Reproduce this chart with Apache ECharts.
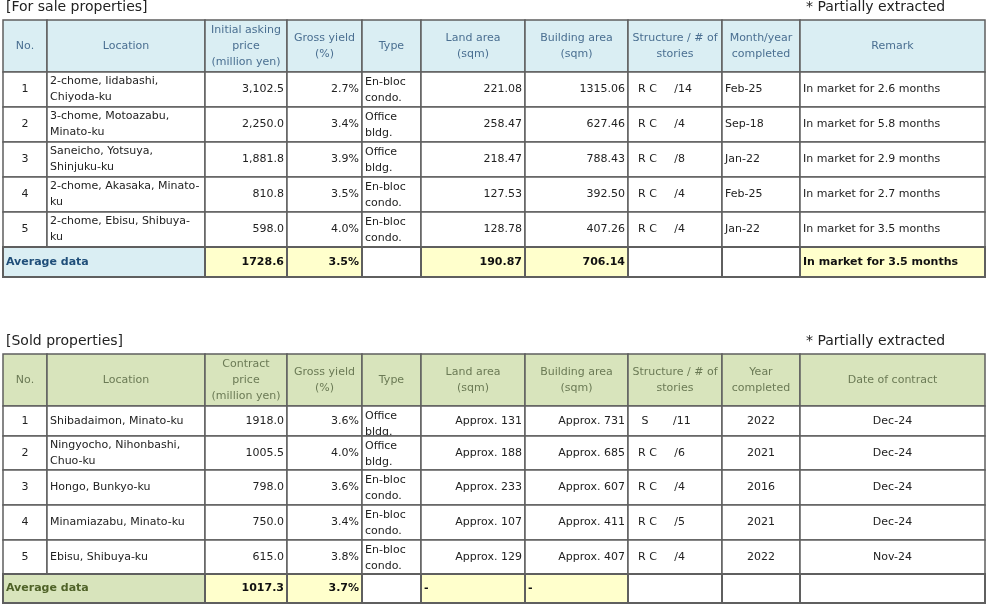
<!DOCTYPE html>
<html><head><meta charset="utf-8">
<script src="https://cdn.jsdelivr.net/npm/echarts@6/dist/echarts.min.js"></script>
<style>html,body{margin:0;padding:0;background:#fff}#c{width:989px;height:608px}</style>
</head><body><div id="c"></div>
<script>
// ---- data ----
const saleHeaders = ["No.","Location","Initial asking\nprice\n(million yen)","Gross yield\n(%)","Type","Land area\n(sqm)","Building area\n(sqm)","Structure / # of\nstories","Month/year\ncompleted","Remark"];
const saleNo = ["1","2","3","4","5"];
const saleLocation = ["2-chome, Iidabashi,\nChiyoda-ku","3-chome, Motoazabu,\nMinato-ku","Saneicho, Yotsuya,\nShinjuku-ku","2-chome, Akasaka, Minato-\nku","2-chome, Ebisu, Shibuya-\nku"];
const salePrice = ["3,102.5","2,250.0","1,881.8","810.8","598.0"];
const saleYield = ["2.7%","3.4%","3.9%","3.5%","4.0%"];
const saleType = ["En-bloc\ncondo.","Office\nbldg.","Office\nbldg.","En-bloc\ncondo.","En-bloc\ncondo."];
const saleLand = ["221.08","258.47","218.47","127.53","128.78"];
const saleBuilding = ["1315.06","627.46","788.43","392.50","407.26"];
const saleStructure = ["  R C     /14","  R C     /4","  R C     /8","  R C     /4","  R C     /4"];
const saleCompleted = ["Feb-25","Sep-18","Jan-22","Feb-25","Jan-22"];
const saleRemark = ["In market for 2.6 months","In market for 5.8 months","In market for 2.9 months","In market for 2.7 months","In market for 3.5 months"];
const saleAverage = ["Average data","1728.6","3.5%","","190.87","706.14","","","In market for 3.5 months"];

const soldHeaders = ["No.","Location","Contract\nprice\n(million yen)","Gross yield\n(%)","Type","Land area\n(sqm)","Building area\n(sqm)","Structure / # of\nstories","Year\ncompleted","Date of contract"];
const soldNo = ["1","2","3","4","5"];
const soldLocation = ["Shibadaimon, Minato-ku","Ningyocho, Nihonbashi,\nChuo-ku","Hongo, Bunkyo-ku","Minamiazabu, Minato-ku","Ebisu, Shibuya-ku"];
const soldPrice = ["1918.0","1005.5","798.0","750.0","615.0"];
const soldYield = ["3.6%","4.0%","3.6%","3.4%","3.8%"];
const soldType = ["Office\nbldg.","Office\nbldg.","En-bloc\ncondo.","En-bloc\ncondo.","En-bloc\ncondo."];
const soldLand = ["Approx. 131","Approx. 188","Approx. 233","Approx. 107","Approx. 129"];
const soldBuilding = ["Approx. 731","Approx. 685","Approx. 607","Approx. 411","Approx. 407"];
const soldStructure = ["   S       /11","  R C     /6","  R C     /4","  R C     /5","  R C     /4"];
const soldCompleted = ["2022","2021","2016","2021","2022"];
const soldDate = ["Dec-24","Dec-24","Dec-24","Dec-24","Nov-24"];
const soldAverage = ["Average data","1017.3","3.7%","","-","-","","",""];

// ---- layout ----
const colEdges = [3,47,205,287,362,421,525,628,722,800,985];
const saleRows = [20,72,107,142,177,212,247,277];
const soldRows = [354,406,436,470,505,540,574,603];
const saleAlign = ['center','left','right','right','left','right','right','left','left','left'];
const soldAlign = ['center','left','right','right','left','right','right','left','center','center'];

const cells = [];
function buildTable(rows, headers, cols, avg, align, hdrBg, hdrFg, avgLabelBg, avgLabelFg, yellowIdx){
  headers.forEach((h,i)=>cells.push({x0:colEdges[i],x1:colEdges[i+1],y0:rows[0],y1:rows[1],text:h,align:'center',bg:hdrBg,fg:hdrFg,bold:false}));
  for(let r=0;r<5;r++){
    cols.forEach((c,i)=>cells.push({x0:colEdges[i],x1:colEdges[i+1],y0:rows[r+1],y1:rows[r+2],text:c[r],align:align[i],bg:'#ffffff',fg:'#222',bold:false,vtop:i===4}));
  }
  cells.push({x0:colEdges[0],x1:colEdges[2],y0:rows[6],y1:rows[7],text:avg[0],align:'left',bg:avgLabelBg,fg:avgLabelFg,bold:true,avg:true});
  for(let i=1;i<avg.length;i++){
    const isDash = avg[i]==='-';
    cells.push({x0:colEdges[i+1],x1:colEdges[i+2],y0:rows[6],y1:rows[7],text:avg[i],align:isDash?'left':align[i+1],bg:yellowIdx.includes(i)?'#ffffcc':'#ffffff',fg:'#111',bold:true,avg:true});
  }
}
buildTable(saleRows,saleHeaders,[saleNo,saleLocation,salePrice,saleYield,saleType,saleLand,saleBuilding,saleStructure,saleCompleted,saleRemark],saleAverage,saleAlign,'#daeef3','#4a6f91','#daeef3','#1f4e79',[1,2,4,5,8]);
buildTable(soldRows,soldHeaders,[soldNo,soldLocation,soldPrice,soldYield,soldType,soldLand,soldBuilding,soldStructure,soldCompleted,soldDate],soldAverage,soldAlign,'#d8e4bc','#6b7a55','#d8e4bc','#4f6228',[1,2,4,5]);

const chart = echarts.init(document.getElementById('c'),null,{renderer:'canvas'});
chart.setOption({
  animation:false,
  grid:{left:0,right:0,top:0,bottom:0},
  xAxis:{type:'value',min:0,max:989,show:false},
  yAxis:{type:'value',min:0,max:608,inverse:true,show:false},
  graphic:[
    {type:'text',left:6,top:0,style:{text:'[For sale properties]',font:'14px "DejaVu Sans"',fill:'#222'}},
    {type:'text',left:806,top:0,style:{text:'* Partially extracted',font:'14px "DejaVu Sans"',fill:'#222'}},
    {type:'text',left:6,top:334,style:{text:'[Sold properties]',font:'14px "DejaVu Sans"',fill:'#222'}},
    {type:'text',left:806,top:334,style:{text:'* Partially extracted',font:'14px "DejaVu Sans"',fill:'#222'}}
  ],
  series:[{
    type:'custom',
    coordinateSystem:'cartesian2d',
    data:cells.map((c,i)=>[c.x0,c.y0,c.x1,c.y1,i]),
    renderItem:function(params,api){
      const c = cells[api.value(4)];
      const p0 = api.coord([api.value(0),api.value(1)]);
      const p1 = api.coord([api.value(2),api.value(3)]);
      const w=p1[0]-p0[0], h=p1[1]-p0[1];
      let tx = c.align==='left'?p0[0]+3:(c.align==='right'?p1[0]-3:p0[0]+w/2);
      const children=[{type:'rect',shape:{x:p0[0],y:p0[1],width:w,height:h},style:{fill:c.bg,stroke:'#5f5f5f',lineWidth:c.avg?2:1.5}}];
      if(c.text){
        children.push({type:'text',style:{text:c.text,x:tx,y:c.vtop?p0[1]+2:p0[1]+h/2,align:c.align,verticalAlign:c.vtop?'top':'middle',font:(c.bold?'bold ':'')+'11px "DejaVu Sans"',fill:c.fg,lineHeight:16}});
      }
      return {type:'group',children};
    }
  }]
});
</script></body></html>
